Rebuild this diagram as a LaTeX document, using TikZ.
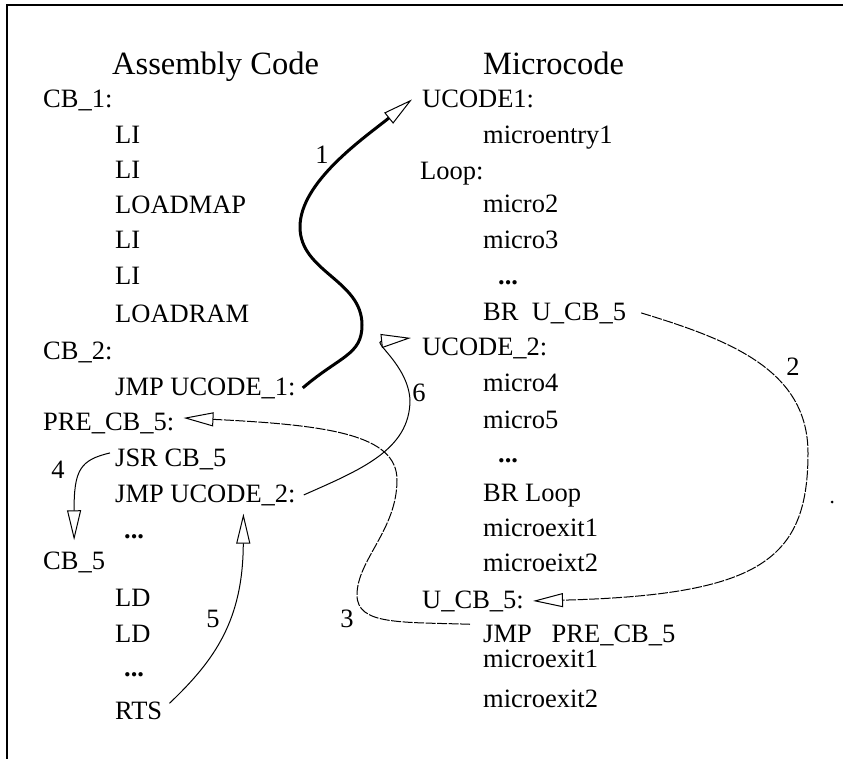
\documentclass[tikz,border=0pt]{standalone}
\usepackage{fontspec}
\setmainfont{Liberation Serif}
\usetikzlibrary{arrows.meta}
\tikzstyle{code}=[anchor=base west, inner sep=0pt]
\tikzstyle{head}=[code, font=\fontsize{32.5}{38}\selectfont]
\tikzstyle{num}=[inner sep=0pt]
\tikzstyle{jump}=[draw, line width=1pt, -{Triangle[open, length=30pt, width=14pt, line width=1pt]}]
\tikzstyle{far}=[jump, dash pattern=on 10pt off 1.5pt]

\begin{document}
\begin{tikzpicture}[x=1pt, y=-1pt, font=\fontsize{26.5}{32}\selectfont]
    \useasboundingbox (0,0) rectangle (843,759);
    \draw[line width=1.5pt] (7,759) -- (7,5) -- (843,5);

    \node[head] (asm) at (112,75) {Assembly Code};
    \node[code] (cb1) at (43,108) {CB\_1:};
    \node[code] (li1) at (115,144) {LI};
    \node[code] (li2) at (115,179) {LI};
    \node[code] (ldmap) at (115,214) {LOADMAP};
    \node[code] (li3) at (115,249) {LI};
    \node[code] (li4) at (115,285) {LI};
    \node[code] (ldram) at (115,322) {LOADRAM};
    \node[code] (cb2) at (43,359) {CB\_2:};
    \node[code] (jmpa) at (115,395) {JMP UCODE\_1:};
    \node[code] (pre) at (43,430) {PRE\_CB\_5:};
    \node[code] (jsr) at (115,466) {JSR CB\_5};
    \node[code] (jmpb) at (115,502) {JMP UCODE\_2:};
    \node[code] (dotsa) at (124,538) {\textbf{...}};
    \node[code] (cb5) at (43,569) {CB\_5};
    \node[code] (lda) at (115,606) {LD};
    \node[code] (ldb) at (115,642) {LD};
    \node[code] (dotsb) at (124,676) {\textbf{...}};
    \node[code] (rts) at (115,719) {RTS};

    \node[head] (mic) at (483,75) {Microcode};
    \node[code] (uc1) at (422,108) {UCODE1:};
    \node[code] (entry) at (483,144) {microentry1};
    \node[code] (loop) at (420,180) {Loop:};
    \node[code] (mic2) at (483,213) {micro2};
    \node[code] (mic3) at (483,249) {micro3};
    \node[code] (dotsc) at (498,285) {\textbf{...}};
    \node[code] (bru) at (483,320) {BR\ \ U\_CB\_5};
    \node[code] (uc2) at (422,355) {UCODE\_2:};
    \node[code] (mic4) at (483,391) {micro4};
    \node[code] (mic5) at (483,428) {micro5};
    \node[code] (dotsd) at (498,462) {\textbf{...}};
    \node[code] (brl) at (483,501) {BR Loop};
    \node[code] (exa) at (483,536) {microexit1};
    \node[code] (exb) at (483,571) {microeixt2};
    \node[code] (ucb5) at (422,608) {U\_CB\_5:};
    \node[code] (jmpc) at (483,642) {JMP\ \ \ PRE\_CB\_5};
    \node[code] (exc) at (483,667) {microexit1};
    \node[code] (exd) at (483,707) {microexit2};

    \node[num] (n1) at (322,155) {1};
    \node[num] (n2) at (793,367) {2};
    \node[num] (n3) at (347,619) {3};
    \node[num] (n4) at (58,470) {4};
    \node[num] (n5) at (213,619) {5};
    \node[num] (n6) at (419,393) {6};

    \draw[jump, line width=3pt] ([xshift=7pt]jmpa.east) .. controls (340,356) and (362,355) .. (362,325) .. controls (362,280) and (300,272) .. (300,227) .. controls (300,182) and (364,138) .. ([xshift=-10pt]uc1.west);
    \draw[far] ([xshift=15pt]bru.east) .. controls (730,340) and (808,370) .. (808,453) .. controls (808,560) and (760,595) .. ([xshift=9pt]ucb5.east);
    \draw[far] ([xshift=-13pt]jmpc.north west) .. controls (400,622) and (357,625) .. (357,595) .. controls (357,560) and (397,530) .. (397,480) .. controls (397,435) and (330,425) .. ([xshift=9pt,yshift=5pt]pre.east);
    \draw[jump] ([xshift=-5pt,yshift=6pt]jsr.west) .. controls (80,460) and (74,470) .. ([yshift=11pt]cb5.north);
    \draw[jump] ([xshift=7pt,yshift=7pt]rts.east) .. controls (215,660) and (243,620) .. ([xshift=38pt,yshift=-8pt]jmpb.south);
    \draw[jump] ([xshift=8pt]jmpb.east) .. controls (360,470) and (410,450) .. (410,400) .. controls (408,365) and (372,342) .. ([xshift=-11pt,yshift=10pt]uc2.west);

    \fill (832,502) circle (1.5pt);
\end{tikzpicture}
\end{document}
